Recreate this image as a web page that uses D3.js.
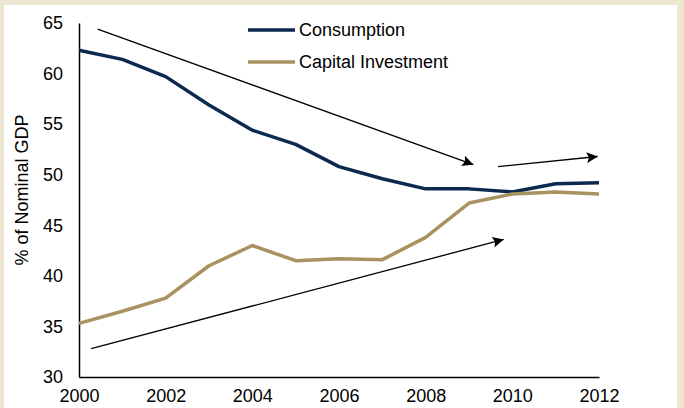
<!DOCTYPE html>
<html>
<head>
<meta charset="utf-8">
<script src="https://cdn.jsdelivr.net/npm/d3@7"></script>
<style>
	body { margin: 0; background: #ede7d1; }
	svg { display: block; font-family: Arial, 'Liberation Sans', sans-serif; }
</style>
</head>
<body>
<div class="chart"></div>
<script>
//chart data
const years = [2000, 2001, 2002, 2003, 2004, 2005, 2006, 2007, 2008, 2009, 2010, 2011, 2012];
const consumption = [62.3, 61.4, 59.7, 56.9, 54.4, 53.0, 50.8, 49.6, 48.6, 48.6, 48.3, 49.1, 49.2];
const capitalInvestment = [35.3, 36.5, 37.8, 41.0, 43.0, 41.5, 41.7, 41.6, 43.8, 47.2, 48.1, 48.3, 48.1];
const yTicks = [30, 35, 40, 45, 50, 55, 60, 65];
const xTicks = [2000, 2002, 2004, 2006, 2008, 2010, 2012];

//trend arrows, in data units [year, value]
const trendArrows = [
	[[2000.43, 64.4], [2009.1, 51.0]],
	[[2009.67, 50.8], [2011.97, 51.8]],
	[[2000.28, 32.8], [2009.8, 43.6]]
];

const series = [
	{ name: 'Consumption', values: consumption, color: '#0c2a50' },
	{ name: 'Capital Investment', values: capitalInvestment, color: '#a8925f' }
];

const fullWidth = 684;
const fullHeight = 408;

//plot area
const margin = { top: 23, right: 85, bottom: 31, left: 79 };
const width = fullWidth - margin.left - margin.right;
const height = fullHeight - margin.top - margin.bottom;

const x = d3.scaleLinear().domain([2000, 2012]).range([0, width]);
const y = d3.scaleLinear().domain([30, 65]).range([height, 0]);

const root = d3
	.select('.chart')
	.append('svg')
	.attr('width', fullWidth)
	.attr('height', fullHeight);

//white panel inside the beige frame
root
	.append('rect')
	.attr('x', 4)
	.attr('y', 5)
	.attr('width', 673)
	.attr('height', fullHeight - 5)
	.attr('fill', '#fff');

root
	.append('defs')
	.append('marker')
	.attr('id', 'arrow')
	.attr('viewBox', '0 0 10 10')
	.attr('refX', 10)
	.attr('refY', 5)
	.attr('markerWidth', 12)
	.attr('markerHeight', 11)
	.attr('orient', 'auto')
	.attr('markerUnits', 'userSpaceOnUse')
	.append('path')
	.attr('d', 'M0,0 L10,5 L0,10 L2,5 Z')
	.attr('fill', '#000');

const svg = root.append('g').attr('transform', `translate(${margin.left}, ${margin.top})`);

//y axis: line + labels, no tick marks
const yAxis = svg
	.append('g')
	.call(d3.axisLeft(y).tickValues(yTicks).tickSize(0).tickPadding(16))
	.call((g) => g.select('.domain').attr('stroke', '#000').attr('stroke-width', 1.5));
yAxis.selectAll('text').style('font-size', '18px').attr('fill', '#000');

//x axis
const xAxis = svg
	.append('g')
	.attr('transform', `translate(0, ${height})`)
	.call(d3.axisBottom(x).tickValues(xTicks).tickFormat(d3.format('d')).tickSize(0).tickPadding(12))
	.call((g) => g.select('.domain').attr('stroke', '#000').attr('stroke-width', 1.5));
xAxis.selectAll('text').style('font-size', '18px').attr('fill', '#000');

//y axis title
svg
	.append('text')
	.attr('transform', 'rotate(-90)')
	.attr('x', -(190 - margin.top))
	.attr('y', 28 - margin.left)
	.style('text-anchor', 'middle')
	.style('font-size', '18px')
	.text('% of Nominal GDP');

//series lines
const line = d3
	.line()
	.x((d, i) => x(years[i]))
	.y((d) => y(d));

svg
	.selectAll('.series')
	.data(series)
	.enter()
	.append('path')
	.attr('class', 'series')
	.attr('d', (d) => line(d.values))
	.attr('fill', 'none')
	.attr('stroke', (d) => d.color)
	.attr('stroke-width', 3.5)
	.attr('stroke-linejoin', 'round');

//trend arrows
svg
	.selectAll('.trend')
	.data(trendArrows)
	.enter()
	.append('line')
	.attr('class', 'trend')
	.attr('x1', (d) => x(d[0][0]))
	.attr('y1', (d) => y(d[0][1]))
	.attr('x2', (d) => x(d[1][0]))
	.attr('y2', (d) => y(d[1][1]))
	.attr('stroke', '#000')
	.attr('stroke-width', 1.3)
	.attr('marker-end', 'url(#arrow)');

//legend
const legend = root.append('g').attr('transform', 'translate(248, 30)');
const item = legend
	.selectAll('g')
	.data(series)
	.enter()
	.append('g')
	.attr('transform', (d, i) => `translate(0, ${i * 32})`);
item
	.append('line')
	.attr('x1', 0)
	.attr('x2', 47)
	.attr('stroke', (d) => d.color)
	.attr('stroke-width', 3.5);
item
	.append('text')
	.attr('x', 51)
	.attr('dy', '0.35em')
	.style('font-size', '18px')
	.text((d) => d.name);
</script>
</body>
</html>
